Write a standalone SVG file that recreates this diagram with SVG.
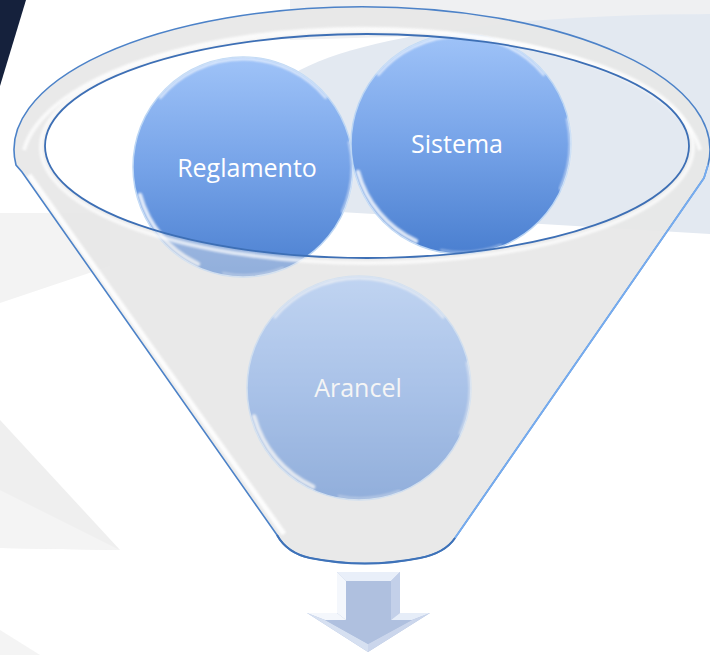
<svg xmlns="http://www.w3.org/2000/svg" width="710" height="655" viewBox="0 0 710 655">
<defs>
<style>
.lbl{font-family:"Open Sans","Liberation Sans",sans-serif;font-size:25px;text-anchor:middle;fill:#ffffff}
.hl{fill:none;stroke:#ffffff;stroke-linecap:round}
</style>
<linearGradient id="ball" x1="0" y1="0" x2="0" y2="1">
<stop offset="0" stop-color="#9fc3f8"/>
<stop offset="0.5" stop-color="#76a3e8"/>
<stop offset="1" stop-color="#4a7fd0"/>
</linearGradient>
<filter id="blur" x="-20%" y="-20%" width="140%" height="140%"><feGaussianBlur stdDeviation="1.2"/></filter>
<g id="glass">
<circle r="110" fill="url(#ball)" stroke="#bcd6f4" stroke-width="1.5"/>
<path class="hl" d="M -82.7,-69.4 A 108 108 0 0 1 82.7,-69.4" stroke-width="2.5" opacity="0.7" filter="url(#blur)"/>
<path class="hl" d="M -45,97 A 107 107 0 0 1 -103,28" stroke-width="4.5" opacity="0.8" filter="url(#blur)"/>
<path class="hl" d="M 106,-25 A 109 109 0 0 1 99,45" stroke-width="2" opacity="0.6" filter="url(#blur)"/>
<path class="hl" d="M 40,101 A 108 108 0 0 1 -20,106" stroke-width="2" opacity="0.4" filter="url(#blur)"/>
</g>
<path id="funnelShape" fill-rule="evenodd" d="M 16,165 A 348 143 0 1 1 708,165 L 704,178 L 455,538 Q 445,553 420,558 Q 365,569 310,558 Q 287,553 277,535 L 22,172 Z M 45,146 A 322 112 0 1 0 689,146 A 322 112 0 1 0 45,146 Z"/>
</defs>

<g id="background">
<rect width="710" height="655" fill="#ffffff"/>
<polygon points="290,0 710,0 710,14 600,18 420,36 290,40" fill="#eff0f2"/>
<path d="M 710,14 C 560,14 380,28 300,70 C 240,110 255,190 340,212 L 710,234 Z" fill="#e3e9f1"/>
<polygon points="0,213 110,213 110,266 0,303" fill="#f3f3f3"/>
<polygon points="0,420 120,550 0,548" fill="#efefef"/>
<polygon points="0,490 120,550 0,548" fill="#f4f4f4"/>
<polygon points="0,630 40,655 0,655" fill="#f4f4f4"/>
<polygon points="0,0 26,0 0,86" fill="#15213c"/>
</g>

<g id="funnel-back">
<use href="#funnelShape" fill="#e6e6e6" opacity="0.88"/>
</g>

<g id="node-reglamento">
<use href="#glass" transform="translate(243,167)"/>
<text class="lbl" x="247" y="177">Reglamento</text>
</g>
<g id="node-sistema">
<use href="#glass" transform="translate(461,144)"/>
<text class="lbl" x="457" y="153">Sistema</text>
</g>
<g id="node-arancel">
<use href="#glass" transform="translate(359,388) scale(1.018)"/>
<text class="lbl" x="358" y="397">Arancel</text>
</g>

<g id="funnel-front">
<use href="#funnelShape" fill="#e8e8e8" opacity="0.45"/>
<path d="M 24,150 A 340 136 0 0 1 700,150" fill="none" stroke="#ffffff" stroke-width="4" opacity="0.75" filter="url(#blur)"/>
<ellipse cx="367" cy="147" rx="326" ry="116" fill="none" stroke="#ffffff" stroke-width="4" opacity="0.7" filter="url(#blur)"/>
<line x1="29" y1="175" x2="284" y2="534" stroke="#ffffff" stroke-width="5" opacity="0.9" filter="url(#blur)"/>
<path d="M 16,165 A 348 143 0 1 1 708,165 L 704,178 L 455,538 Q 445,553 420,558 Q 365,569 310,558 Q 287,553 277,535 L 22,172 Z" fill="none" stroke="#4c82c8" stroke-width="1.6"/>
<path d="M 708,165 L 704,178 L 455,538" fill="none" stroke="#76acef" stroke-width="1.8"/>
<path d="M 455,538 Q 445,553 420,558 Q 365,569 310,558 Q 287,553 277,535" fill="none" stroke="#3e72b8" stroke-width="2"/>
<ellipse cx="367" cy="146" rx="322" ry="112" fill="none" stroke="#3d6fb5" stroke-width="1.8"/>
</g>

<g id="arrow">
<polygon points="337,572 400,572 400,613 430,613 368,652 307,613 337,613" fill="#b2c2e0"/>
<polygon points="337,572 400,572 391,581 346,581" fill="#e9eff9"/>
<polygon points="337,572 346,581 346,620 337,613" fill="#f4f7fc"/>
<polygon points="400,572 400,613 391,620 391,581" fill="#c3d0e9"/>
<polygon points="337,613 346,620 325,620 307,613" fill="#f4f7fc"/>
<polygon points="400,613 430,613 412,620 391,620" fill="#e6edf8"/>
<polygon points="307,613 325,620 368,644 368,652" fill="#d6e0f1"/>
<polygon points="430,613 368,652 368,644 412,620" fill="#cbd6ec"/>
<polygon points="346,581 391,581 391,620 412,620 368,644 325,620 346,620" fill="#afc0df"/>
</g>
</svg>
